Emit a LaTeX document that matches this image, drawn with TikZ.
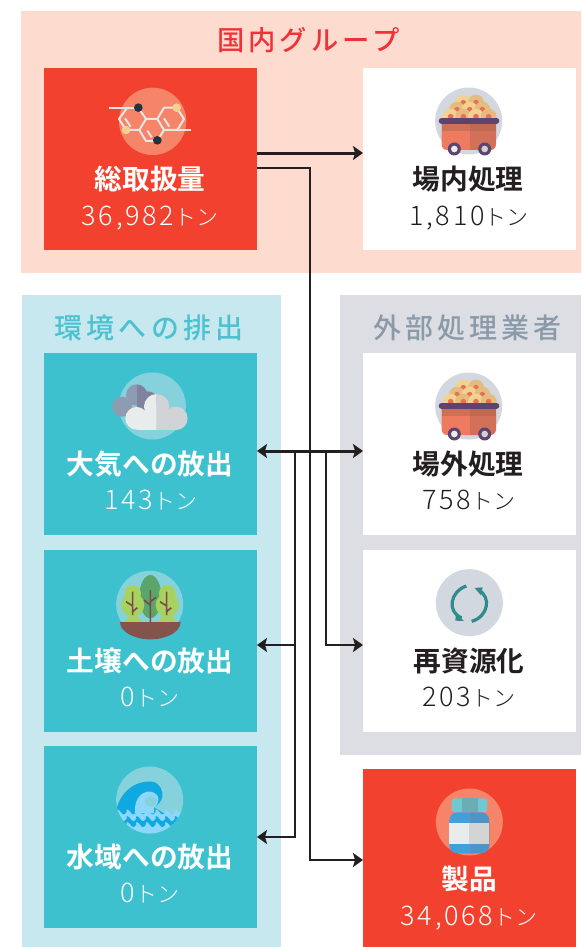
\documentclass[tikz,border=0pt]{standalone}
\usepackage{fontspec}
\usetikzlibrary{arrows.meta}
\setmainfont{Noto Sans CJK JP}
\newfontfamily\boldf{Noto Sans CJK JP Bold}
\newfontfamily\lightf{Noto Sans CJK JP Light}
\newfontfamily\lightsp[LetterSpace=10]{Noto Sans CJK JP Light}
\newfontfamily\headf[LetterSpace=15]{Noto Sans CJK JP Medium}
\definecolor{pinkbg}{HTML}{FDDCCF}
\definecolor{redbox}{HTML}{F2412F}
\definecolor{bluebg}{HTML}{C8E8EF}
\definecolor{tealbox}{HTML}{3EC1CF}
\definecolor{greybg}{HTML}{DCDEE4}
\definecolor{inkc}{HTML}{231F20}
\definecolor{headred}{HTML}{EE3338}
\definecolor{headteal}{HTML}{4DC1D0}
\definecolor{headgrey}{HTML}{8A9AA8}
\definecolor{discred}{HTML}{F58468}
\definecolor{discblue}{HTML}{86D2DC}
\definecolor{discgrey}{HTML}{D3D7DF}
\definecolor{F-a}{HTML}{EE7A60}
\definecolor{F-b}{HTML}{D27059}
\definecolor{F-c}{HTML}{CC7058}
\definecolor{F-d}{HTML}{BF6852}
\definecolor{F-e}{HTML}{5D4470}
\definecolor{F-f}{HTML}{ECEDE8}
\definecolor{F-g}{HTML}{D2D1CA}
\definecolor{ballmid}{HTML}{E8705A}
\definecolor{bondc}{HTML}{E6E6E6}
\definecolor{dotdark}{HTML}{26323F}
\definecolor{dotyel}{HTML}{F5CF8E}
\definecolor{cloudA}{HTML}{8F9BB0}
\definecolor{cloudB}{HTML}{7F839F}
\definecolor{cloudC}{HTML}{E8ECEC}
\definecolor{cloudD}{HTML}{D2D3D6}
\definecolor{treeD}{HTML}{5BA56A}
\definecolor{treeL}{HTML}{A8D25F}
\definecolor{earth}{HTML}{85534C}
\definecolor{trunk}{HTML}{7A4A48}
\definecolor{waveD}{HTML}{0FA8E0}
\definecolor{waveL}{HTML}{8CD8FA}
\definecolor{cycleC}{HTML}{2F8C8C}
\definecolor{capA}{HTML}{6FC8D4}
\definecolor{capB}{HTML}{68AEB4}
\definecolor{capC}{HTML}{70B8C8}
\definecolor{botA}{HTML}{40A0DC}
\definecolor{botB}{HTML}{4D95C8}
\definecolor{labA}{HTML}{E8ECEC}
\definecolor{labB}{HTML}{D2D5D3}
\tikzset{
  panel/.style={draw=none,anchor=north west,inner sep=0pt,outer sep=0pt},
  card/.style={panel,minimum width=213pt,minimum height=182pt},
  heading/.style={inner sep=0pt,font=\headf\fontsize{28}{30}\selectfont},
  titletext/.style={inner sep=0pt,text height=20pt,text depth=3pt,font=\boldf\fontsize{27.7}{30}\selectfont},
  qtytext/.style={inner sep=0pt,text height=20pt,text depth=3pt},
  flow/.style={draw=inkc,line width=3pt,-{Stealth[length=10pt,width=14pt,inset=2pt]}},
  flowb/.style={draw=inkc,line width=3pt,{Stealth[length=10pt,width=14pt,inset=2pt]}-{Stealth[length=10pt,width=14pt,inset=2pt]}},
  flowthin/.style={draw=inkc,line width=2.6pt,-{Stealth[length=10pt,width=14pt,inset=2pt]}},
  bond/.style={draw=bondc,line width=2pt,line join=round},
}
\newcommand{\qtylabel}[1]{{\lightsp\fontsize{27}{30}\selectfont #1}{\lightf\fontsize{22}{30}\selectfont トン}}
\newcommand{\cartdraw}{%
  \fill[discgrey] (326,153) circle (100.5);
  \foreach \p/\r/\c in {310/98/F3D28F,348/98/E3BC7E,291/119/E3BC7E,329/119/F3D28F,367/119/E3BC7E,272/140/F3D28F,310/140/E3BC7E,348/140/F3D28F,386/140/E3BC7E}{
    \definecolor{ballc}{HTML}{\c}
    \fill[ballc] (\p,\r) circle (24);
    \fill[ballmid] (\p,\r) circle (8.5);
  }
  \fill[fill=F-a] (245,152) -- (330,152) -- (330,240) -- (262,240) .. controls (250,240) and (245,232) .. (245,222) -- cycle;
  \fill[fill=F-b] (330,152) -- (408,152) -- (408,222) .. controls (408,232) and (402,240) .. (392,240) -- (330,240) -- cycle;
  \fill[fill=F-c] (245,152) rectangle (330,183);
  \fill[fill=F-d] (330,152) rectangle (408,183);
  \draw[draw=F-e,line width=6pt,line cap=round] (245,152) -- (409,152);
  \foreach \p/\q in {283/F-f,374/F-g}{
    \fill[F-e] (\p,237) circle (19.5);
    \fill[\q] (\p,237) circle (10);
  }
}
\newcommand{\wavyband}[1]{(100,#1) \foreach \i in {0,1,...,6}{ .. controls (108+\i*29,#1-10) and (115+\i*29,#1-10) .. (122+\i*29,#1) .. controls (128+\i*29,#1+10) and (134+\i*29,#1+10) .. (140+\i*29,#1) } -- (320,300) -- (100,300) -- cycle}
\begin{document}
\begin{tikzpicture}[x=1pt,y=-1pt]
\useasboundingbox (0,0) rectangle (581,947);
% panels
\node[panel,fill=pinkbg,minimum width=560pt,minimum height=262pt] (domestic) at (21,11) {};
\node[panel,fill=bluebg,minimum width=259pt,minimum height=652pt] (envpanel) at (22,295) {};
\node[panel,fill=greybg,minimum width=241pt,minimum height=460pt] (extpanel) at (340,295) {};
% cards
\node[card,fill=redbox] (total) at (44,68) {};
\node[card,fill=white] (onsite) at (363,68) {};
\node[card,fill=tealbox] (air) at (44,353) {};
\node[card,fill=tealbox] (soil) at (44,550) {};
\node[card,fill=tealbox] (water) at (44,746) {};
\node[card,fill=white] (offsite) at (363,353) {};
\node[card,fill=white] (recycle) at (363,550) {};
\node[panel,fill=redbox,minimum width=213pt,minimum height=178pt] (product) at (363,769) {};
% headings
\node[heading,text=headred,font=\headf\fontsize{27.3}{30}\selectfont] (h1) at (308.5,40) {国内グループ};
\node[heading,text=headteal] (h2) at (149,328) {環境への排出};
\node[heading,text=headgrey] (h3) at (467.5,328) {外部処理業者};
% texts
\node[titletext,text=white] (t1) at (150,181) {総取扱量};
\node[qtytext,text=white] (q1) at (150,217) {\qtylabel{36,982}};
\node[titletext,text=inkc] (t2) at (468,181) {場内処理};
\node[qtytext,text=inkc] (q2) at (469,217) {\qtylabel{1,810}};
\node[titletext,text=white] (t3) at (150,466) {大気への放出};
\node[qtytext,text=white] (q3) at (151,501) {\qtylabel{143}};
\node[titletext,text=inkc] (t4) at (468,466) {場外処理};
\node[qtytext,text=inkc] (q4) at (469,501) {\qtylabel{758}};
\node[titletext,text=white] (t5) at (150,663) {土壌への放出};
\node[qtytext,text=white] (q5) at (150,698) {\qtylabel{0}};
\node[titletext,text=inkc] (t6) at (469,663) {再資源化};
\node[qtytext,text=inkc] (q6) at (469,698) {\qtylabel{203}};
\node[titletext,text=white] (t7) at (150,859) {水域への放出};
\node[qtytext,text=white] (q7) at (150,894) {\qtylabel{0}};
\node[titletext,text=white] (t8) at (469,881) {製品};
\node[qtytext,text=white] (q8) at (469,917) {\qtylabel{34,068}};
% molecule
\begin{scope}[shift={(40,60)},scale=1/3]
  \fill[discred] (338,184) circle (101);
  \draw[bond] (208,143) -- (295,143);
  \draw[bond] (262,143) -- (237,177) -- (258,210) -- (298,210) -- (318,177) -- (295,143);
  \draw[bond] (298,210) -- (318,243) -- (352,243) -- (372,210) -- (352,177) -- (318,177);
  \draw[bond] (352,177) -- (372,143) -- (410,143) -- (432,177) -- (412,210) -- (372,210);
  \draw[bond] (412,210) -- (452,210);
  \draw[bond] (255,175) -- (272,200);
  \draw[bond] (322,212) -- (335,232);
  \draw[bond] (372,175) -- (388,200);
  \fill[dotdark] (295,143) circle (13);
  \fill[dotdark] (352,241) circle (13);
  \fill[dotyel] (258,210) circle (13);
  \fill[dotyel] (410,143) circle (13);
\end{scope}
% carts
\begin{scope}[shift={(360,70)},scale=1/3]\cartdraw\end{scope}
\begin{scope}[shift={(360,355)},scale=1/3]\cartdraw\end{scope}
% clouds
\begin{scope}[shift={(40,350)},scale=1/3]
  \fill[discblue] (337,168) circle (100.5);
  \begin{scope}
    \clip (200,80) rectangle (290,250);
    \fill[cloudA] (247,170) circle (30);
    \fill[cloudA] (290,135) circle (32);
  \end{scope}
  \begin{scope}
    \clip (290,80) rectangle (400,250);
    \fill[cloudB] (290,135) circle (32);
    \fill[cloudB] (325,150) circle (26);
    \fill[cloudB] (290,140) rectangle (325,190);
  \end{scope}
  \begin{scope}
    \clip (240,100) rectangle (350,250);
    \fill[cloudC] (290,205) circle (34);
    \fill[cloudC] (350,170) circle (38);
    \fill[cloudC] (290,190) rectangle (405,239);
  \end{scope}
  \begin{scope}
    \clip (350,100) rectangle (460,250);
    \fill[cloudD] (350,170) circle (38);
    \fill[cloudD] (408,205) circle (35);
    \fill[cloudD] (340,190) rectangle (408,240);
  \end{scope}
\end{scope}
% trees
\begin{scope}[shift={(80,550)},scale=1/3]
  \fill[discblue] (209,163) circle (100.5);
  \fill[treeD] (211,140) ellipse (33 and 65);
  \fill[treeL] (158,130) circle (25);
  \fill[treeL] (158,165) circle (35);
  \fill[treeL] (262,130) circle (25);
  \fill[treeL] (262,165) circle (35);
  \fill[treeL] (160,222) circle (26);
  \fill[treeL] (262,222) circle (28);
  \fill[treeL] (228,222) circle (10);
  \fill[earth] (120,216) -- (302,216) arc (0:180:91 and 52) -- cycle;
  \draw[draw=trunk,line width=1.6pt] (211,216) -- (211,120) (211,165) -- (192,150) (211,155) -- (228,142);
  \draw[draw=trunk,line width=1.6pt] (158,195) -- (158,125) (158,168) -- (138,155) (158,185) -- (172,173);
  \draw[draw=trunk,line width=1.6pt] (260,195) -- (260,125) (260,168) -- (240,155) (260,185) -- (274,173);
\end{scope}
% wave
\begin{scope}[shift={(80,750)},scale=1/3]
  \fill[discblue] (209,150) circle (100.5);
  \begin{scope}
    \clip (209,150) circle (100.5);
    \fill[waveD] (108,190) .. controls (115,125) and (170,90) .. (215,95) .. controls (240,97) and (250,125) .. (247,140) .. controls (245,155) and (232,165) .. (222,172) -- (300,220) -- (108,220) -- cycle;
    \fill[waveL] (165,190) .. controls (160,140) and (195,115) .. (222,128) .. controls (240,135) and (240,160) .. (222,172) -- (222,190) -- cycle;
    \fill[discblue] (222,140) .. controls (235,145) and (232,160) .. (220,170) .. controls (205,172) and (188,165) .. (195,150) .. controls (200,140) and (212,137) .. (222,140) -- cycle;
    \fill[waveL] \wavyband{186};
    \fill[waveD] \wavyband{206};
    \fill[waveL] \wavyband{224};
  \end{scope}
\end{scope}
% recycle
\begin{scope}[shift={(400,560)},scale=1/3]
  \fill[discgrey] (208,128) circle (100.5);
  \draw[draw=cycleC,line width=3.2pt] (199,78) .. controls (150,95) and (140,155) .. (185,174);
  \draw[draw=cycleC,line width=3.2pt] (215,184) .. controls (265,170) and (275,110) .. (235,90);
  \fill[cycleC] (192,183) -- (168,160) -- (166,182) -- cycle;
  \fill[cycleC] (224,84) -- (248,82) -- (243,106) -- cycle;
\end{scope}
% bottle
\begin{scope}[shift={(400,780)},scale=1/3]
  \fill[discred] (208,126) circle (100.5);
  \fill[capA,rounded corners=3pt] (155,55) rectangle (262,97);
  \fill[capB] (185,55) rectangle (235,97);
  \begin{scope}
    \clip (140,90) rectangle (208,230);
    \fill[botA,rounded corners=8pt] (148,97) rectangle (268,220);
  \end{scope}
  \begin{scope}
    \clip (208,90) rectangle (280,230);
    \fill[botB,rounded corners=8pt] (148,97) rectangle (268,220);
  \end{scope}
  \fill[labA] (147,130) rectangle (208,193);
  \fill[labB] (208,130) rectangle (268,193);
\end{scope}
% connectors
\coordinate (bend) at (310,860);
\coordinate (j1) at (295,451);
\coordinate (j2) at (326,451);
\draw[flow] ([yshift=6pt]total.east) -- ([yshift=6pt]onsite.west);
\draw[flowthin] ([yshift=-9pt]total.east) -| (bend) -- ([yshift=-2pt]product.west);
\draw[flowb] ([yshift=-7pt]air.east) -- ([yshift=-7pt]offsite.west);
\draw[flowthin] (j1) |- ([yshift=-4pt]soil.east);
\draw[flowthin] (j1) |- (water.east);
\draw[flowthin] (j2) |- ([yshift=-4pt]recycle.west);
\end{tikzpicture}
\end{document}
